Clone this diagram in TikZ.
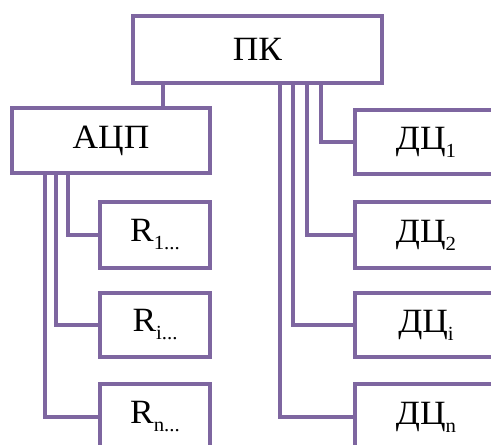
\documentclass[tikz,border=0pt]{standalone}
\usepackage{graphicx}
\usepackage{fontspec}
\setmainfont{Liberation Serif}
\definecolor{vio}{HTML}{7E66A0}
\newcommand\lowsub[1]{\raisebox{-8pt}{\fontsize{20}{22}\selectfont #1}}
\newcommand\wide[1]{\scalebox{1.04}[1]{#1}}
\begin{document}
\begin{tikzpicture}[x=1pt,y=-1pt,
  box/.style={draw=vio,line width=4.5pt,fill=white,inner sep=0pt,font=\fontsize{34}{40}\selectfont},
  conn/.style={draw=vio,line width=4pt}]
\useasboundingbox (0,0) rectangle (491,445);
\clip (0,0) rectangle (491,445);
% boxes
\node[box,minimum width=249pt,minimum height=67pt] (pk) at (257.5,49.5) {\wide{ПК}};
\node[box,minimum width=198pt,minimum height=65pt] (acp) at (111,140.5) {\wide{АЦП}};
\node[box,minimum width=110pt,minimum height=66pt] (r1) at (155,235) {\wide{R\lowsub{1...}}};
\node[box,minimum width=110pt,minimum height=64pt] (ri) at (155,325) {\wide{R\lowsub{i...}}};
\node[box,minimum width=110pt,minimum height=66pt] (rn) at (155,417) {\wide{R\lowsub{n...}}};
\node[box,minimum width=142pt,minimum height=64pt] (dc1) at (426,142) {\wide{ДЦ\lowsub{1}}};
\node[box,minimum width=142pt,minimum height=66pt] (dc2) at (426,235) {\wide{ДЦ\lowsub{2}}};
\node[box,minimum width=142pt,minimum height=64pt] (dci) at (426,325) {\wide{ДЦ\lowsub{i}}};
\node[box,minimum width=142pt,minimum height=66pt] (dcn) at (426,417) {\wide{ДЦ\lowsub{n}}};
% bus coordinates
\coordinate (a0) at (163,0);
\coordinate (c1) at (321,0);
\coordinate (c2) at (307,0);
\coordinate (c3) at (293,0);
\coordinate (c4) at (280,0);
\coordinate (l1) at (68,0);
\coordinate (l2) at (56,0);
\coordinate (l3) at (45,0);
\draw[conn] (a0 |- pk.south) -- (a0 |- acp.north);
\draw[conn] (c1 |- pk.south) |- (dc1.west);
\draw[conn] (c2 |- pk.south) |- (dc2.west);
\draw[conn] (c3 |- pk.south) |- (dci.west);
\draw[conn] (c4 |- pk.south) |- (dcn.west);
\draw[conn] (l1 |- acp.south) |- (r1.west);
\draw[conn] (l2 |- acp.south) |- (ri.west);
\draw[conn] (l3 |- acp.south) |- (rn.west);
\end{tikzpicture}
\end{document}
